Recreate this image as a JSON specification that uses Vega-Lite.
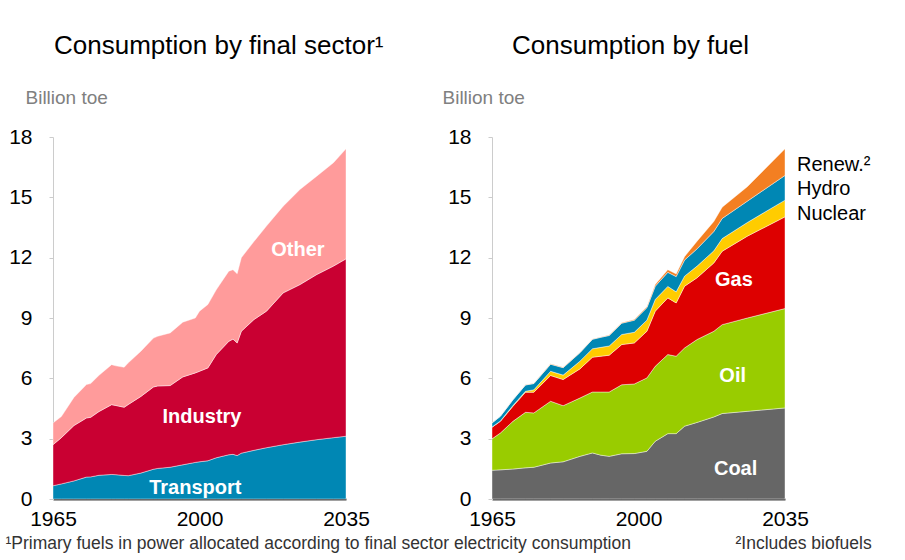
{
  "$schema": "https://vega.github.io/schema/vega-lite/v6.json",
  "autosize": {"type": "none"},
  "padding": {"left": 53, "top": 137, "right": 852, "bottom": 423},
  "config": {
    "view": {"stroke": null},
    "font": "Liberation Sans",
    "title": {"fontSize": 26, "fontWeight": "normal", "color": "#000000", "anchor": "start", "frame": "group", "offset": 29},
    "axis": {"grid": false, "labelFont": "Liberation Sans", "titleFont": "Liberation Sans"}
  },
  "resolve": {"scale": {"color": "independent", "x": "independent", "y": "independent"}},
  "datasets": {
    "sector": [
      {"year": 1965, "sector": "Transport", "value": 0.66}, {"year": 1965, "sector": "Industry", "value": 2.04}, {"year": 1965, "sector": "Other", "value": 1.08},
      {"year": 1967, "sector": "Transport", "value": 0.75}, {"year": 1967, "sector": "Industry", "value": 2.30}, {"year": 1967, "sector": "Other", "value": 1.05},
      {"year": 1970, "sector": "Transport", "value": 0.90}, {"year": 1970, "sector": "Industry", "value": 2.75}, {"year": 1970, "sector": "Other", "value": 1.40},
      {"year": 1973, "sector": "Transport", "value": 1.09}, {"year": 1973, "sector": "Industry", "value": 2.94}, {"year": 1973, "sector": "Other", "value": 1.66},
      {"year": 1974, "sector": "Transport", "value": 1.10}, {"year": 1974, "sector": "Industry", "value": 2.96}, {"year": 1974, "sector": "Other", "value": 1.68},
      {"year": 1976, "sector": "Transport", "value": 1.18}, {"year": 1976, "sector": "Industry", "value": 3.17}, {"year": 1976, "sector": "Other", "value": 1.80},
      {"year": 1979, "sector": "Transport", "value": 1.22}, {"year": 1979, "sector": "Industry", "value": 3.47}, {"year": 1979, "sector": "Other", "value": 1.99},
      {"year": 1980, "sector": "Transport", "value": 1.21}, {"year": 1980, "sector": "Industry", "value": 3.44}, {"year": 1980, "sector": "Other", "value": 1.97},
      {"year": 1982, "sector": "Transport", "value": 1.17}, {"year": 1982, "sector": "Industry", "value": 3.39}, {"year": 1982, "sector": "Other", "value": 1.99},
      {"year": 1983, "sector": "Transport", "value": 1.16}, {"year": 1983, "sector": "Industry", "value": 3.54}, {"year": 1983, "sector": "Other", "value": 2.07},
      {"year": 1986, "sector": "Transport", "value": 1.29}, {"year": 1986, "sector": "Industry", "value": 3.81}, {"year": 1986, "sector": "Other", "value": 2.25},
      {"year": 1989, "sector": "Transport", "value": 1.48}, {"year": 1989, "sector": "Industry", "value": 4.09}, {"year": 1989, "sector": "Other", "value": 2.43},
      {"year": 1990, "sector": "Transport", "value": 1.52}, {"year": 1990, "sector": "Industry", "value": 4.10}, {"year": 1990, "sector": "Other", "value": 2.47},
      {"year": 1993, "sector": "Transport", "value": 1.58}, {"year": 1993, "sector": "Industry", "value": 4.06}, {"year": 1993, "sector": "Other", "value": 2.62},
      {"year": 1996, "sector": "Transport", "value": 1.70}, {"year": 1996, "sector": "Industry", "value": 4.37}, {"year": 1996, "sector": "Other", "value": 2.72},
      {"year": 1999, "sector": "Transport", "value": 1.82}, {"year": 1999, "sector": "Industry", "value": 4.45}, {"year": 1999, "sector": "Other", "value": 2.73},
      {"year": 2000, "sector": "Transport", "value": 1.85}, {"year": 2000, "sector": "Industry", "value": 4.50}, {"year": 2000, "sector": "Other", "value": 2.99},
      {"year": 2002, "sector": "Transport", "value": 1.90}, {"year": 2002, "sector": "Industry", "value": 4.62}, {"year": 2002, "sector": "Other", "value": 3.15},
      {"year": 2004, "sector": "Transport", "value": 2.05}, {"year": 2004, "sector": "Industry", "value": 5.13}, {"year": 2004, "sector": "Other", "value": 3.22},
      {"year": 2007, "sector": "Transport", "value": 2.20}, {"year": 2007, "sector": "Industry", "value": 5.64}, {"year": 2007, "sector": "Other", "value": 3.49},
      {"year": 2008, "sector": "Transport", "value": 2.22}, {"year": 2008, "sector": "Industry", "value": 5.73}, {"year": 2008, "sector": "Other", "value": 3.45},
      {"year": 2009, "sector": "Transport", "value": 2.16}, {"year": 2009, "sector": "Industry", "value": 5.60}, {"year": 2009, "sector": "Other", "value": 3.44},
      {"year": 2010, "sector": "Transport", "value": 2.28}, {"year": 2010, "sector": "Industry", "value": 6.06}, {"year": 2010, "sector": "Other", "value": 3.66},
      {"year": 2013, "sector": "Transport", "value": 2.42}, {"year": 2013, "sector": "Industry", "value": 6.50}, {"year": 2013, "sector": "Other", "value": 3.88},
      {"year": 2016, "sector": "Transport", "value": 2.55}, {"year": 2016, "sector": "Industry", "value": 6.79}, {"year": 2016, "sector": "Other", "value": 4.23},
      {"year": 2020, "sector": "Transport", "value": 2.70}, {"year": 2020, "sector": "Industry", "value": 7.55}, {"year": 2020, "sector": "Other", "value": 4.31},
      {"year": 2024, "sector": "Transport", "value": 2.83}, {"year": 2024, "sector": "Industry", "value": 7.83}, {"year": 2024, "sector": "Other", "value": 4.73},
      {"year": 2028, "sector": "Transport", "value": 2.95}, {"year": 2028, "sector": "Industry", "value": 8.21}, {"year": 2028, "sector": "Other", "value": 4.89},
      {"year": 2032, "sector": "Transport", "value": 3.05}, {"year": 2032, "sector": "Industry", "value": 8.53}, {"year": 2032, "sector": "Other", "value": 5.14},
      {"year": 2035, "sector": "Transport", "value": 3.12}, {"year": 2035, "sector": "Industry", "value": 8.82}, {"year": 2035, "sector": "Other", "value": 5.47}
    ],
    "fuel": [
      {"year": 1965, "fuel": "Coal", "value": 1.43}, {"year": 1965, "fuel": "Oil", "value": 1.56}, {"year": 1965, "fuel": "Gas", "value": 0.58}, {"year": 1965, "fuel": "Nuclear", "value": 0.01}, {"year": 1965, "fuel": "Hydro", "value": 0.20}, {"year": 1965, "fuel": "Renew.", "value": 0.01},
      {"year": 1967, "fuel": "Coal", "value": 1.45}, {"year": 1967, "fuel": "Oil", "value": 1.83}, {"year": 1967, "fuel": "Gas", "value": 0.58}, {"year": 1967, "fuel": "Nuclear", "value": 0.02}, {"year": 1967, "fuel": "Hydro", "value": 0.23}, {"year": 1967, "fuel": "Renew.", "value": 0.01},
      {"year": 1970, "fuel": "Coal", "value": 1.49}, {"year": 1970, "fuel": "Oil", "value": 2.37}, {"year": 1970, "fuel": "Gas", "value": 0.75}, {"year": 1970, "fuel": "Nuclear", "value": 0.04}, {"year": 1970, "fuel": "Hydro", "value": 0.28}, {"year": 1970, "fuel": "Renew.", "value": 0.01},
      {"year": 1973, "fuel": "Coal", "value": 1.55}, {"year": 1973, "fuel": "Oil", "value": 2.76}, {"year": 1973, "fuel": "Gas", "value": 1.00}, {"year": 1973, "fuel": "Nuclear", "value": 0.05}, {"year": 1973, "fuel": "Hydro", "value": 0.31}, {"year": 1973, "fuel": "Renew.", "value": 0.01},
      {"year": 1975, "fuel": "Coal", "value": 1.58}, {"year": 1975, "fuel": "Oil", "value": 2.70}, {"year": 1975, "fuel": "Gas", "value": 1.03}, {"year": 1975, "fuel": "Nuclear", "value": 0.12}, {"year": 1975, "fuel": "Hydro", "value": 0.31}, {"year": 1975, "fuel": "Renew.", "value": 0.01},
      {"year": 1979, "fuel": "Coal", "value": 1.79}, {"year": 1979, "fuel": "Oil", "value": 3.07}, {"year": 1979, "fuel": "Gas", "value": 1.28}, {"year": 1979, "fuel": "Nuclear", "value": 0.21}, {"year": 1979, "fuel": "Hydro", "value": 0.35}, {"year": 1979, "fuel": "Renew.", "value": 0.02},
      {"year": 1982, "fuel": "Coal", "value": 1.85}, {"year": 1982, "fuel": "Oil", "value": 2.79}, {"year": 1982, "fuel": "Gas", "value": 1.30}, {"year": 1982, "fuel": "Nuclear", "value": 0.22}, {"year": 1982, "fuel": "Hydro", "value": 0.37}, {"year": 1982, "fuel": "Renew.", "value": 0.02},
      {"year": 1986, "fuel": "Coal", "value": 2.12}, {"year": 1986, "fuel": "Oil", "value": 2.90}, {"year": 1986, "fuel": "Gas", "value": 1.45}, {"year": 1986, "fuel": "Nuclear", "value": 0.38}, {"year": 1986, "fuel": "Hydro", "value": 0.42}, {"year": 1986, "fuel": "Renew.", "value": 0.02},
      {"year": 1989, "fuel": "Coal", "value": 2.29}, {"year": 1989, "fuel": "Oil", "value": 3.03}, {"year": 1989, "fuel": "Gas", "value": 1.73}, {"year": 1989, "fuel": "Nuclear", "value": 0.42}, {"year": 1989, "fuel": "Hydro", "value": 0.47}, {"year": 1989, "fuel": "Renew.", "value": 0.02},
      {"year": 1991, "fuel": "Coal", "value": 2.18}, {"year": 1991, "fuel": "Oil", "value": 3.14}, {"year": 1991, "fuel": "Gas", "value": 1.78}, {"year": 1991, "fuel": "Nuclear", "value": 0.44}, {"year": 1991, "fuel": "Hydro", "value": 0.50}, {"year": 1991, "fuel": "Renew.", "value": 0.02},
      {"year": 1993, "fuel": "Coal", "value": 2.12}, {"year": 1993, "fuel": "Oil", "value": 3.20}, {"year": 1993, "fuel": "Gas", "value": 1.83}, {"year": 1993, "fuel": "Nuclear", "value": 0.46}, {"year": 1993, "fuel": "Hydro", "value": 0.52}, {"year": 1993, "fuel": "Renew.", "value": 0.02},
      {"year": 1996, "fuel": "Coal", "value": 2.25}, {"year": 1996, "fuel": "Oil", "value": 3.43}, {"year": 1996, "fuel": "Gas", "value": 2.00}, {"year": 1996, "fuel": "Nuclear", "value": 0.50}, {"year": 1996, "fuel": "Hydro", "value": 0.56}, {"year": 1996, "fuel": "Renew.", "value": 0.03},
      {"year": 1999, "fuel": "Coal", "value": 2.26}, {"year": 1999, "fuel": "Oil", "value": 3.46}, {"year": 1999, "fuel": "Gas", "value": 2.04}, {"year": 1999, "fuel": "Nuclear", "value": 0.53}, {"year": 1999, "fuel": "Hydro", "value": 0.60}, {"year": 1999, "fuel": "Renew.", "value": 0.04},
      {"year": 2002, "fuel": "Coal", "value": 2.37}, {"year": 2002, "fuel": "Oil", "value": 3.65}, {"year": 2002, "fuel": "Gas", "value": 2.32}, {"year": 2002, "fuel": "Nuclear", "value": 0.55}, {"year": 2002, "fuel": "Hydro", "value": 0.62}, {"year": 2002, "fuel": "Renew.", "value": 0.05},
      {"year": 2004, "fuel": "Coal", "value": 2.87}, {"year": 2004, "fuel": "Oil", "value": 3.73}, {"year": 2004, "fuel": "Gas", "value": 2.74}, {"year": 2004, "fuel": "Nuclear", "value": 0.58}, {"year": 2004, "fuel": "Hydro", "value": 0.66}, {"year": 2004, "fuel": "Renew.", "value": 0.08},
      {"year": 2007, "fuel": "Coal", "value": 3.25}, {"year": 2007, "fuel": "Oil", "value": 3.93}, {"year": 2007, "fuel": "Gas", "value": 2.82}, {"year": 2007, "fuel": "Nuclear", "value": 0.57}, {"year": 2007, "fuel": "Hydro", "value": 0.70}, {"year": 2007, "fuel": "Renew.", "value": 0.13},
      {"year": 2009, "fuel": "Coal", "value": 3.25}, {"year": 2009, "fuel": "Oil", "value": 3.85}, {"year": 2009, "fuel": "Gas", "value": 2.65}, {"year": 2009, "fuel": "Nuclear", "value": 0.55}, {"year": 2009, "fuel": "Hydro", "value": 0.76}, {"year": 2009, "fuel": "Renew.", "value": 0.13},
      {"year": 2011, "fuel": "Coal", "value": 3.62}, {"year": 2011, "fuel": "Oil", "value": 3.89}, {"year": 2011, "fuel": "Gas", "value": 3.07}, {"year": 2011, "fuel": "Nuclear", "value": 0.50}, {"year": 2011, "fuel": "Hydro", "value": 0.80}, {"year": 2011, "fuel": "Renew.", "value": 0.17},
      {"year": 2014, "fuel": "Coal", "value": 3.81}, {"year": 2014, "fuel": "Oil", "value": 4.12}, {"year": 2014, "fuel": "Gas", "value": 3.07}, {"year": 2014, "fuel": "Nuclear", "value": 0.58}, {"year": 2014, "fuel": "Hydro", "value": 0.86}, {"year": 2014, "fuel": "Renew.", "value": 0.38},
      {"year": 2018, "fuel": "Coal", "value": 4.08}, {"year": 2018, "fuel": "Oil", "value": 4.26}, {"year": 2018, "fuel": "Gas", "value": 3.40}, {"year": 2018, "fuel": "Nuclear", "value": 0.60}, {"year": 2018, "fuel": "Hydro", "value": 0.96}, {"year": 2018, "fuel": "Renew.", "value": 0.50},
      {"year": 2020, "fuel": "Coal", "value": 4.25}, {"year": 2020, "fuel": "Oil", "value": 4.42}, {"year": 2020, "fuel": "Gas", "value": 3.65}, {"year": 2020, "fuel": "Nuclear", "value": 0.63}, {"year": 2020, "fuel": "Hydro", "value": 1.00}, {"year": 2020, "fuel": "Renew.", "value": 0.56},
      {"year": 2026, "fuel": "Coal", "value": 4.36}, {"year": 2026, "fuel": "Oil", "value": 4.64}, {"year": 2026, "fuel": "Gas", "value": 4.07}, {"year": 2026, "fuel": "Nuclear", "value": 0.68}, {"year": 2026, "fuel": "Hydro", "value": 1.06}, {"year": 2026, "fuel": "Renew.", "value": 0.72},
      {"year": 2035, "fuel": "Coal", "value": 4.53}, {"year": 2035, "fuel": "Oil", "value": 4.94}, {"year": 2035, "fuel": "Gas", "value": 4.56}, {"year": 2035, "fuel": "Nuclear", "value": 0.83}, {"year": 2035, "fuel": "Hydro", "value": 1.23}, {"year": 2035, "fuel": "Renew.", "value": 1.32}
    ]
  },
  "spacing": 146,
  "bounds": "flush",
  "hconcat": [
    {
      "width": 293,
      "height": 362,
      "title": {"text": "Consumption by final sector¹", "dx": 1},
      "layer": [
        {
          "data": {"name": "sector"},
          "transform": [{"calculate": "indexof(['Transport','Industry','Other'], datum.sector)", "as": "k"}],
          "mark": {"type": "area", "stroke": "#ffffff", "strokeWidth": 0.6, "strokeOpacity": 0.7},
          "encoding": {
            "x": {"field": "year", "type": "quantitative",
              "scale": {"domain": [1965, 2035], "nice": false, "zero": false},
              "axis": {"values": [1965, 2000, 2035], "format": "d", "labelFontSize": 21, "labelColor": "#000000",
                "domainColor": "#444444", "domainWidth": 2, "ticks": false, "labelPadding": 9, "labelFlush": false,
                "title": "¹Primary fuels in power allocated according to final sector electricity consumption",
                "titleAnchor": "start", "titleAlign": "left", "titleX": -48, "titleY": 44, "titleBaseline": "middle",
                "titleFontSize": 17.5, "titleFontWeight": "normal", "titleColor": "#333333"}},
            "y": {"field": "value", "type": "quantitative", "stack": "zero",
              "scale": {"domain": [0, 18], "nice": false},
              "axis": {"values": [0, 3, 6, 9, 12, 15, 18], "title": "Billion toe", "titleAngle": 0, "titleAlign": "left",
                "titleX": -28, "titleY": -40, "titleBaseline": "middle", "titleColor": "#808080", "titleFontSize": 19,
                "titleFontWeight": "normal", "labelFontSize": 21, "labelColor": "#000000", "domainColor": "#cccccc",
                "tickColor": "#cccccc", "tickSize": 4, "labelPadding": 17}},
            "color": {"field": "sector", "type": "nominal",
              "scale": {"domain": ["Transport", "Industry", "Other"], "range": ["#0087b4", "#c90032", "#ff9b9b"]},
              "legend": null},
            "order": {"field": "k", "type": "quantitative"}
          }
        },
        {
          "mark": {"type": "rule", "color": "#888888", "strokeWidth": 1.2},
          "encoding": {"x": {"datum": 2013}, "y": {"datum": 0}, "y2": {"datum": 17.8}}
        },
        {
          "data": {"values": [
            {"label": "Other", "year": 2023.5, "value": 12.4},
            {"label": "Industry", "year": 2000.6, "value": 4.1},
            {"label": "Transport", "year": 1999, "value": 0.56}
          ]},
          "mark": {"type": "text", "color": "#ffffff", "fontSize": 20, "fontWeight": "bold", "align": "center", "baseline": "middle"},
          "encoding": {
            "x": {"field": "year", "type": "quantitative"},
            "y": {"field": "value", "type": "quantitative"},
            "text": {"field": "label"}
          }
        }
      ]
    },
    {
      "width": 293,
      "height": 362,
      "title": {"text": "Consumption by fuel", "dx": 20},
      "layer": [
        {
          "data": {"name": "fuel"},
          "transform": [{"calculate": "indexof(['Coal','Oil','Gas','Nuclear','Hydro','Renew.'], datum.fuel)", "as": "k"}],
          "mark": {"type": "area", "stroke": "#ffffff", "strokeWidth": 0.6, "strokeOpacity": 0.7},
          "encoding": {
            "x": {"field": "year", "type": "quantitative",
              "scale": {"domain": [1965, 2035], "nice": false, "zero": false},
              "axis": {"values": [1965, 2000, 2035], "format": "d", "labelFontSize": 21, "labelColor": "#000000",
                "domainColor": "#444444", "domainWidth": 2, "ticks": false, "labelPadding": 9, "labelFlush": false,
                "title": "²Includes biofuels",
                "titleAnchor": "start", "titleAlign": "left", "titleX": 243, "titleY": 44, "titleBaseline": "middle",
                "titleFontSize": 17.5, "titleFontWeight": "normal", "titleColor": "#333333"}},
            "y": {"field": "value", "type": "quantitative", "stack": "zero",
              "scale": {"domain": [0, 18], "nice": false},
              "axis": {"values": [0, 3, 6, 9, 12, 15, 18], "title": "Billion toe", "titleAngle": 0, "titleAlign": "left",
                "titleX": -50, "titleY": -40, "titleBaseline": "middle", "titleColor": "#808080", "titleFontSize": 19,
                "titleFontWeight": "normal", "labelFontSize": 21, "labelColor": "#000000", "domainColor": "#cccccc",
                "tickColor": "#cccccc", "tickSize": 4, "labelPadding": 17}},
            "color": {"field": "fuel", "type": "nominal",
              "scale": {"domain": ["Coal", "Oil", "Gas", "Nuclear", "Hydro", "Renew."],
                "range": ["#666666", "#99cc00", "#dd0000", "#ffcc00", "#0087b4", "#f37f22"]},
              "legend": null},
            "order": {"field": "k", "type": "quantitative"}
          }
        },
        {
          "mark": {"type": "rule", "color": "#888888", "strokeWidth": 1.2},
          "encoding": {"x": {"datum": 2014}, "y": {"datum": 0}, "y2": {"datum": 17.7}}
        },
        {
          "data": {"values": [
            {"label": "Gas", "year": 2022.8, "value": 10.9},
            {"label": "Oil", "year": 2022.5, "value": 6.1},
            {"label": "Coal", "year": 2023.2, "value": 1.5}
          ]},
          "mark": {"type": "text", "color": "#ffffff", "fontSize": 20, "fontWeight": "bold", "align": "center", "baseline": "middle"},
          "encoding": {
            "x": {"field": "year", "type": "quantitative"},
            "y": {"field": "value", "type": "quantitative"},
            "text": {"field": "label"}
          }
        },
        {
          "data": {"values": [
            {"label": "Renew.²", "year": 2035, "value": 16.6},
            {"label": "Hydro", "year": 2035, "value": 15.4},
            {"label": "Nuclear", "year": 2035, "value": 14.15}
          ]},
          "mark": {"type": "text", "color": "#000000", "fontSize": 20, "align": "left", "baseline": "middle", "dx": 12},
          "encoding": {
            "x": {"field": "year", "type": "quantitative"},
            "y": {"field": "value", "type": "quantitative"},
            "text": {"field": "label"}
          }
        }
      ]
    }
  ]
}
